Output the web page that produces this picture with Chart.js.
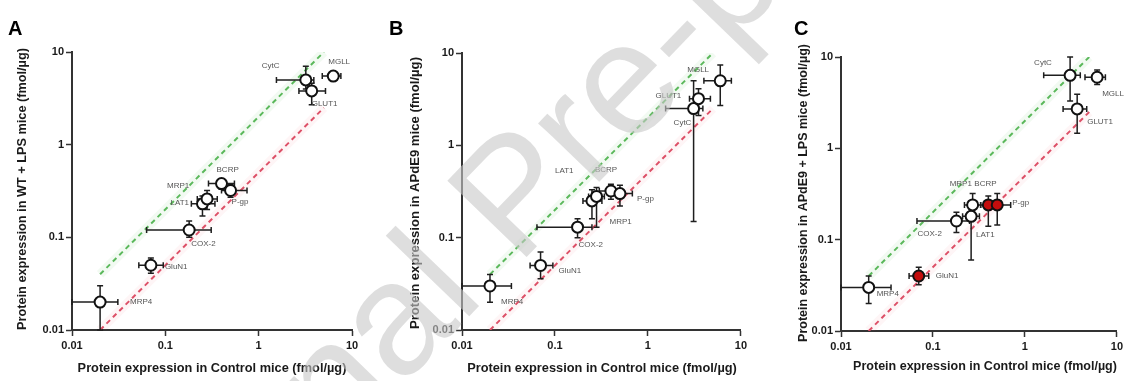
<!DOCTYPE html>
<html>
<head>
<meta charset="utf-8">
<script src="https://cdn.jsdelivr.net/npm/chart.js@4.4.1/dist/chart.umd.min.js"></script>
<style>
  html, body { margin: 0; padding: 0; background: #fff; }
  #wrap { position: relative; width: 1126px; height: 381px; overflow: hidden; }
  .panel { position: absolute; top: 0; }
  #wm { position: absolute; left: 0; top: 0; pointer-events: none; }
</style>
</head>
<body>
<div id="wrap">
  <canvas class="panel" id="chartA" width="375" height="381" style="left:0"></canvas>
  <canvas class="panel" id="chartB" width="375" height="381" style="left:375px"></canvas>
  <canvas class="panel" id="chartC" width="376" height="381" style="left:750px"></canvas>
  <canvas id="wm" width="1126" height="381"></canvas>
</div>
<script>
// 단백질 목록 (모든 패널 공통 순서)
const proteins = ['MRP4', 'GluN1', 'COX-2', 'LAT1', 'MRP1', 'BCRP', 'P-gp', 'CytC', 'MGLL', 'GLUT1'];

// 축 눈금
const axisTicks = [0.01, 0.1, 1, 10];
const tickLabels = ['0.01', '0.1', '1', '10'];

// 기준선 (y = 2x, y = x/2)
const refX = [0.02, 5];
const upperY = [0.04, 10];
const lowerY = [0.01, 2.5];

// A: Control vs WT + LPS
const aX   = [0.02, 0.07, 0.18, 0.25, 0.28, 0.40, 0.50, 3.2, 6.3, 3.7];
const aXLo = [0.01, 0.052, 0.063, 0.19, 0.22, 0.29, 0.40, 1.55, 4.8, 2.7];
const aXHi = [0.031, 0.095, 0.31, 0.34, 0.36, 0.55, 0.75, 3.9, 7.6, 5.2];
const aY   = [0.02, 0.05, 0.12, 0.23, 0.26, 0.38, 0.32, 5.0, 5.5, 3.8];
const aYLo = [0.01, 0.041, 0.10, 0.17, 0.20, 0.33, 0.27, 4.0, 5.0, 2.7];
const aYHi = [0.03, 0.06, 0.15, 0.28, 0.32, 0.43, 0.37, 7.0, 6.0, 4.6];

// B: Control vs APdE9
const bX   = [0.02, 0.07, 0.175, 0.25, 0.28, 0.40, 0.50, 3.1, 6.0, 3.5];
const bXLo = [0.01, 0.054, 0.064, 0.20, 0.23, 0.30, 0.40, 1.55, 4.0, 2.8];
const bXHi = [0.034, 0.095, 0.25, 0.32, 0.34, 0.52, 0.68, 3.9, 7.9, 4.7];
const bY   = [0.03, 0.05, 0.13, 0.25, 0.28, 0.32, 0.30, 2.5, 5.0, 3.2];
const bYLo = [0.02, 0.036, 0.10, 0.16, 0.13, 0.26, 0.22, 0.15, 2.7, 2.1];
const bYHi = [0.04, 0.07, 0.16, 0.33, 0.35, 0.38, 0.37, 5.0, 7.4, 4.1];

// C: Control vs APdE9 + LPS
const cX   = [0.02, 0.07, 0.18, 0.26, 0.27, 0.40, 0.50, 3.1, 6.1, 3.7];
const cXLo = [0.01, 0.055, 0.067, 0.21, 0.22, 0.33, 0.42, 1.6, 4.5, 2.6];
const cXHi = [0.035, 0.09, 0.25, 0.32, 0.33, 0.48, 0.70, 4.0, 7.5, 4.7];
const cY   = [0.03, 0.04, 0.16, 0.18, 0.24, 0.24, 0.24, 6.3, 6.0, 2.7];
const cYLo = [0.02, 0.032, 0.12, 0.06, 0.17, 0.14, 0.145, 3.3, 5.0, 1.46];
const cYHi = [0.04, 0.05, 0.20, 0.22, 0.32, 0.30, 0.32, 10, 7.2, 3.9];
const cSignificant = ['GluN1', 'BCRP', 'P-gp'];

const xTitle = 'Protein expression in Control mice (fmol/µg)';
const FONT = "'Liberation Sans', Arial, sans-serif";

// 라벨 위치 (점 기준 px 오프셋)
const labelOffsetsA = { MRP4: [30, 0], GluN1: [14, 2], 'COX-2': [2, 14], LAT1: [-32, -1], MRP1: [-40, -13],
  BCRP: [-5, -14], 'P-gp': [1, 11], CytC: [-44, -14], MGLL: [-5, -14], GLUT1: [0, 13] };
const labelOffsetsB = { MRP4: [11, 16], GluN1: [18, 5], 'COX-2': [1, 18], LAT1: [-37, -30], MRP1: [13, 25],
  BCRP: [-16, -21], 'P-gp': [17, 5], CytC: [-20, 14], GLUT1: [-43, -3], MGLL: [-33, -11] };
const labelOffsetsC = { MRP4: [8, 6], GluN1: [17, 0], 'COX-2': [-39, 13], LAT1: [5, 18], MRP1: [-23, -21],
  BCRP: [-14, -21], 'P-gp': [15, -2], CytC: [-36, -13], MGLL: [5, 17], GLUT1: [10, 13] };

const panels = [
  { id: 'chartA', letter: 'A', width: 375, area: { left: 72, right: 352, top: 52, bottom: 330 },
    x: aX, xLo: aXLo, xHi: aXHi, y: aY, yLo: aYLo, yHi: aYHi, filled: [], labels: labelOffsetsA,
    yTitle: 'Protein expression in WT + LPS mice (fmol/µg)',
    yTitlePos: [22, 189, 282], xTitlePos: [212, 368, 269], letterPos: [8, 35] },
  { id: 'chartB', letter: 'B', width: 375, area: { left: 87, right: 366, top: 53, bottom: 330 },
    x: bX, xLo: bXLo, xHi: bXHi, y: bY, yLo: bYLo, yHi: bYHi, filled: [], labels: labelOffsetsB,
    yTitle: 'Protein expression in APdE9 mice (fmol/µg)',
    yTitlePos: [40, 193, 272], xTitlePos: [227, 368, 270], letterPos: [14, 35] },
  { id: 'chartC', letter: 'C', width: 376, area: { left: 91, right: 370, top: 57, bottom: 331 },
    x: cX, xLo: cXLo, xHi: cXHi, y: cY, yLo: cYLo, yHi: cYHi, filled: cSignificant, labels: labelOffsetsC,
    yTitle: 'Protein expression in APdE9 + LPS mice (fmol/µg)',
    yTitlePos: [54, 193, 298], xTitlePos: [235, 367, 264], letterPos: [44, 35] },
];

// 에러바: 점보다 먼저 그림
const errorBarPlugin = {
  id: 'errorBars',
  beforeDatasetDraw(chart, args) {
    if (args.index !== 0) return;
    const { ctx, chartArea: a } = chart;
    const xs = chart.scales.x, ys = chart.scales.y;
    const cap = 3;
    ctx.save();
    ctx.beginPath();
    ctx.rect(a.left - 1, a.top - 4, a.right - a.left + 5, a.bottom - a.top + 5);
    ctx.clip();
    ctx.strokeStyle = '#1e1e1e';
    ctx.lineWidth = 1.5;
    chart.data.datasets[0].data.forEach(d => {
      const px = xs.getPixelForValue(d.x), py = ys.getPixelForValue(d.y);
      const x0 = xs.getPixelForValue(d.xLo), x1 = xs.getPixelForValue(d.xHi);
      const y0 = ys.getPixelForValue(d.yLo), y1 = ys.getPixelForValue(d.yHi);
      ctx.beginPath();
      ctx.moveTo(x0, py); ctx.lineTo(x1, py);
      ctx.moveTo(x0, py - cap); ctx.lineTo(x0, py + cap);
      ctx.moveTo(x1, py - cap); ctx.lineTo(x1, py + cap);
      ctx.moveTo(px, y0); ctx.lineTo(px, y1);
      ctx.moveTo(px - cap, y0); ctx.lineTo(px + cap, y0);
      ctx.moveTo(px - cap, y1); ctx.lineTo(px + cap, y1);
      ctx.stroke();
    });
    ctx.restore();
  },
};

// 단백질 라벨, 축 제목, 패널 문자
const decorPlugin = {
  id: 'decor',
  afterDatasetsDraw(chart, args, opts) {
    const ctx = chart.ctx;
    const meta = chart.getDatasetMeta(0);
    ctx.save();
    ctx.font = `8px ${FONT}`;
    ctx.fillStyle = '#555';
    ctx.textAlign = 'left';
    ctx.textBaseline = 'middle';
    chart.data.datasets[0].data.forEach((d, i) => {
      const off = opts.labels[d.name] || [8, 0];
      const el = meta.data[i];
      ctx.fillText(d.name, el.x + off[0], el.y + off[1]);
    });
    ctx.restore();
  },
  afterDraw(chart, args, opts) {
    const ctx = chart.ctx;
    ctx.save();
    ctx.fillStyle = '#1a1a1a';
    const fit = (text, target) => {
      ctx.font = `bold 10px ${FONT}`;
      const w = ctx.measureText(text).width;
      ctx.font = `bold ${(10 * target / w).toFixed(2)}px ${FONT}`;
    };
    // x 축 제목
    fit(xTitle, opts.xTitlePos[2]);
    ctx.textAlign = 'center';
    ctx.textBaseline = 'middle';
    ctx.fillText(xTitle, opts.xTitlePos[0], opts.xTitlePos[1]);
    // y 축 제목
    ctx.save();
    ctx.translate(opts.yTitlePos[0], opts.yTitlePos[1]);
    ctx.rotate(-Math.PI / 2);
    fit(opts.yTitle, opts.yTitlePos[2]);
    ctx.fillText(opts.yTitle, 0, 0);
    ctx.restore();
    // 패널 문자
    ctx.font = `bold 20px ${FONT}`;
    ctx.fillStyle = '#000';
    ctx.textAlign = 'left';
    ctx.textBaseline = 'alphabetic';
    ctx.fillText(opts.letter, opts.letterPos[0], opts.letterPos[1]);
    ctx.restore();
  },
};

function axisOptions(isX, p) {
  return {
    type: 'logarithmic',
    min: 0.01,
    max: 10,
    afterBuildTicks: s => { s.ticks = axisTicks.map(v => ({ value: v })); },
    afterFit: s => {
      if (isX) s.height = 381 - p.area.bottom;
      else s.width = p.area.left;
    },
    ticks: {
      autoSkip: false,
      maxRotation: 0,
      padding: isX ? 3 : 2,
      color: '#1a1a1a',
      font: { family: FONT, size: 11, weight: 'bold' },
      callback: (v, i) => tickLabels[i],
    },
    grid: { display: true, drawOnChartArea: false, drawTicks: true, tickLength: 6, tickWidth: 1.5, color: '#333' },
    border: { display: true, color: '#333', width: 2 },
    title: { display: false },
  };
}

function refLine(ys, color, width, dash) {
  return {
    type: 'line',
    data: refX.map((x, i) => ({ x, y: ys[i] })),
    borderColor: color,
    borderWidth: width,
    borderDash: dash,
    pointRadius: 0,
    fill: false,
    order: 2,
  };
}

panels.forEach(p => {
  const points = proteins.map((name, i) => ({
    name, x: p.x[i], y: p.y[i], xLo: p.xLo[i], xHi: p.xHi[i], yLo: p.yLo[i], yHi: p.yHi[i],
  }));
  new Chart(document.getElementById(p.id), {
    type: 'scatter',
    data: {
      datasets: [
        {
          data: points,
          pointRadius: 5.5,
          pointBorderWidth: 2,
          pointBorderColor: '#111',
          pointBackgroundColor: proteins.map(n => p.filled.includes(n) ? '#c40d0d' : '#fff'),
          order: 0,
        },
        refLine(upperY, 'rgba(90,190,90,0.08)', 9, []),
        refLine(lowerY, 'rgba(230,90,110,0.06)', 9, []),
        refLine(upperY, '#5cb85c', 2, [5, 4]),
        refLine(lowerY, '#dc5068', 2, [5, 4]),
      ],
    },
    options: {
      responsive: false,
      animation: false,
      layout: { padding: { left: 0, top: p.area.top, right: p.width - p.area.right, bottom: 0 } },
      plugins: {
        legend: { display: false },
        tooltip: { enabled: false },
        decor: { labels: p.labels, yTitle: p.yTitle, yTitlePos: p.yTitlePos, xTitlePos: p.xTitlePos,
                 letter: p.letter, letterPos: p.letterPos },
      },
      scales: { x: axisOptions(true, p), y: axisOptions(false, p) },
    },
    plugins: [errorBarPlugin, decorPlugin],
  });
});

// "Journal Pre-proof" 워터마크
(function drawWatermark() {
  const ctx = document.getElementById('wm').getContext('2d');
  ctx.save();
  ctx.translate(122, 676);
  ctx.rotate(-46 * Math.PI / 180);
  ctx.font = `160px ${FONT}`;
  ctx.fillStyle = 'rgba(200,200,200,0.6)';
  ctx.fillText('Journal Pre-proof', 0, 0);
  ctx.restore();
})();
</script>
</body>
</html>
